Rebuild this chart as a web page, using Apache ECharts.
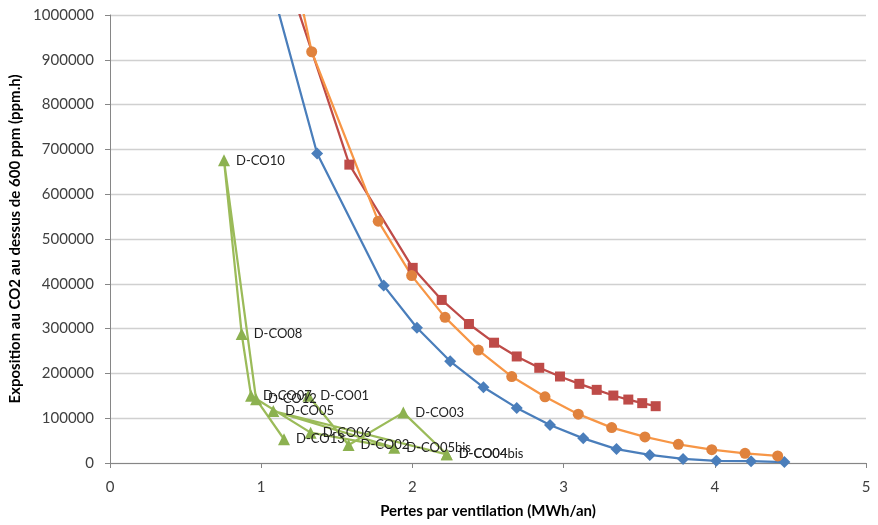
<!DOCTYPE html>
<html><head><meta charset="utf-8">
<script src="https://cdn.jsdelivr.net/npm/echarts@6/dist/echarts.min.js"></script>
<style>html,body{margin:0;padding:0;background:#fff}#c{width:878px;height:525px}</style>
</head><body><div id="c"></div>
<script>
const FONT = 'Lato';
// Blue series (diamonds)
const blueX = [0.93, 1.37, 1.81, 2.03, 2.25, 2.47, 2.69, 2.91, 3.13, 3.35, 3.57, 3.79, 4.01, 4.24, 4.46];
const blueY = [1235000, 691000, 396000, 302000, 227000, 169000, 123000, 85000, 55000, 31000, 18000, 9000, 5000, 4000, 2000];
// Red series (squares)
const redX = [1.15, 1.583, 2.002, 2.194, 2.374, 2.540, 2.690, 2.839, 2.976, 3.104, 3.219, 3.329, 3.428, 3.520, 3.609];
const redY = [1107000, 666000, 435600, 364000, 310300, 268500, 237800, 212500, 193100, 176700, 163300, 150600, 141600, 133600, 126800];
// Orange series (circles)
const orangeX = [1.114, 1.334, 1.774, 1.995, 2.216, 2.436, 2.657, 2.877, 3.097, 3.318, 3.538, 3.759, 3.980, 4.200, 4.416];
const orangeY = [1267000, 918000, 539800, 418300, 325100, 252100, 193000, 147700, 109000, 79000, 58200, 41800, 29800, 21700, 15700];
// Green series (triangles, labelled)
const greenNames = ['D-CO01','D-CO02','D-CO03','D-CO04','D-CO04bis','D-CO05','D-CO05bis','D-CO06','D-CO07','D-CO08','D-CO10','D-CO12','D-CO13'];
const greenX = [1.312, 1.578, 1.940, 2.227, 2.227, 1.080, 1.880, 1.327, 0.933, 0.871, 0.754, 0.966, 1.151];
const greenY = [150000, 40300, 112500, 19400, 19400, 116000, 34300, 67800, 150000, 288000, 675600, 142500, 53000];
// Axis ticks
const xTicks = {min: 0, max: 5, interval: 1};
const yTicks = {min: 0, max: 1000000, interval: 100000};

const zip = (xs, ys) => xs.map((x, i) => [x, ys[i]]);
const chart = echarts.init(document.getElementById('c'), null, {renderer: 'canvas'});
const lineS = (name, xs, ys, color, mColor, symbol, size) => ({
  name, type: 'line', data: zip(xs, ys), symbol, symbolSize: size,
  lineStyle: {color, width: 2.25}, itemStyle: {color: mColor},
  clip: true, z: 2
});
chart.setOption({
  animation: false,
  grid: {left: 110, right: 12, top: 15, bottom: 62, containLabel: false, outerBoundsMode: 'none'},
  xAxis: {
    type: 'value', min: xTicks.min, max: xTicks.max, interval: xTicks.interval,
    name: 'Pertes par ventilation (MWh/an)', nameLocation: 'middle', nameGap: 41,
    nameTextStyle: {fontFamily: FONT, fontSize: 15, fontWeight: 'bold', color: '#000'},
    axisLine: {lineStyle: {color: '#868686'}},
    axisTick: {show: true, length: 5, lineStyle: {color: '#868686'}},
    axisLabel: {fontFamily: FONT, fontSize: 15, color: '#404040', margin: 17},
    splitLine: {show: false}
  },
  yAxis: {
    type: 'value', min: yTicks.min, max: yTicks.max, interval: yTicks.interval,
    name: 'Exposition au CO2 au dessus de 600 ppm (ppm.h)', nameLocation: 'middle', nameGap: 81, nameRotate: 90,
    nameTextStyle: {fontFamily: FONT, fontSize: 15, fontWeight: 'bold', color: '#000'},
    axisLine: {show: true, lineStyle: {color: '#868686'}},
    axisTick: {show: true, length: 5, lineStyle: {color: '#868686'}},
    axisLabel: {fontFamily: FONT, fontSize: 15, color: '#404040', margin: 16, formatter: v => String(v)},
    splitLine: {show: true, lineStyle: {color: '#D0D0D0', width: 1.3}}
  },
  series: [
    lineS('blue', blueX, blueY, '#4A7EBB', '#4A7EBB', 'diamond', 12),
    lineS('red', redX, redY, '#BE4B48', '#BE4B48', 'rect', 10),
    lineS('orange', orangeX, orangeY, '#F79646', '#E0823D', 'circle', 11),
    {
      name: 'green', type: 'line', data: zip(greenX, greenY).map((p, i) => ({value: p, name: greenNames[i]})),
      symbol: 'triangle', symbolSize: 12,
      lineStyle: {color: '#9BBB59', width: 2.25}, itemStyle: {color: '#8CB150'},
      label: {show: true, position: 'right', distance: 6, formatter: p => p.name,
        fontFamily: FONT, fontSize: 13, color: '#222'},
      z: 3
    }
  ]
});
</script></body></html>
